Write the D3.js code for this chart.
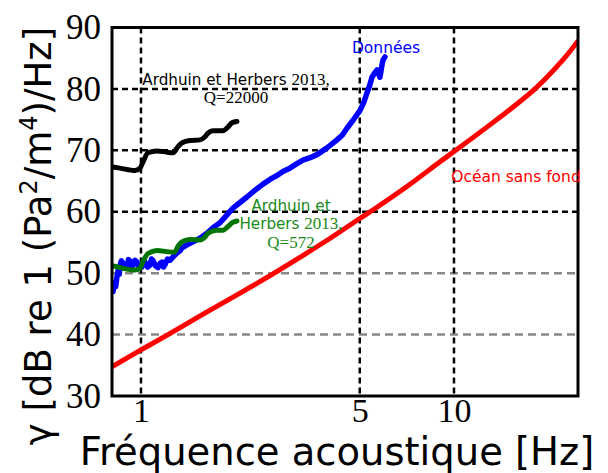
<!DOCTYPE html>
<html>
<head>
<meta charset="utf-8">
<script src="https://cdn.jsdelivr.net/npm/d3@7"></script>
<style>
  html, body { margin: 0; padding: 0; background: #fff; }
  svg { display: block; }
</style>
</head>
<body>
<svg id="chart" width="608" height="473"></svg>
<script>
// ---- data ----
const xTicks = [1, 5, 10];
const xTickLabels = ["1", "5", "10"];
const yTicks = [30, 40, 50, 60, 70, 80, 90];
const yGridBlack = [60, 70, 80];
const yGridGray = [40, 50];

const freqRed = [0.81, 1, 1.24, 1.6, 2, 2.45, 3.2, 4, 5, 5.66, 7.2, 9, 10, 13.7, 18.15, 22.35, 24.8];
const gammaRed = [34.8, 37.5, 40.2, 43.5, 46.3, 48.9, 52.5, 55.6, 58.9, 60.7, 64.4, 68.1, 69.8, 75.0, 80.0, 84.8, 87.7];

const freqBlack = [0.808, 0.857, 0.957, 0.993, 1.015, 1.053, 1.125, 1.211, 1.265, 1.313, 1.352, 1.434, 1.543, 1.601, 1.637, 1.698, 1.828, 1.897, 1.953, 2.026];
const gammaBlack = [67.3, 67.1, 66.7, 67.1, 68.1, 69.6, 69.9, 69.7, 69.6, 70.6, 71.2, 71.6, 71.7, 72.2, 72.8, 73.2, 73.2, 73.8, 74.5, 74.7];

const freqGreen = [0.808, 0.857, 0.957, 0.993, 1.015, 1.053, 1.125, 1.211, 1.28, 1.313, 1.352, 1.434, 1.543, 1.601, 1.637, 1.74, 1.828, 1.897, 1.953, 2.026];
const gammaGreen = [51.2, 50.9, 50.5, 50.8, 51.9, 53.2, 53.7, 53.5, 53.4, 54.4, 55.1, 55.5, 55.4, 55.9, 56.5, 57.0, 57.0, 57.6, 58.2, 58.5];

const freqBlue = [0.814, 0.822, 0.830, 0.838, 0.846, 0.852, 0.857, 0.866, 0.876, 0.889, 0.902, 0.912, 0.922, 0.933, 0.943, 0.957, 0.971, 0.985, 1.007, 1.018, 1.030, 1.050, 1.068, 1.080, 1.092, 1.112, 1.133, 1.150, 1.167, 1.180, 1.193, 1.215, 1.238, 1.265, 1.303, 1.330, 1.352, 1.403, 1.466, 1.543, 1.625, 1.698, 1.788, 1.883, 1.967, 2.072, 2.18, 2.30, 2.454, 2.59, 2.72, 2.85, 2.99, 3.14, 3.29, 3.47, 3.65, 3.93, 4.23, 4.40, 4.55, 4.76, 5.01, 5.15, 5.27, 5.38, 5.47, 5.58, 5.68, 5.80, 5.87, 5.93, 6.02];
const gammaBlue = [47.0, 48.5, 47.8, 49.4, 50.5, 49.8, 51.3, 52.0, 51.6, 50.8, 51.0, 52.2, 52.0, 51.0, 51.3, 52.1, 51.8, 51.0, 51.0, 52.0, 51.8, 51.0, 51.3, 52.3, 52.1, 51.2, 50.9, 51.6, 51.8, 51.0, 51.4, 52.3, 52.1, 52.6, 53.3, 53.6, 54.1, 54.6, 55.1, 55.7, 56.5, 57.4, 58.2, 59.5, 60.6, 61.5, 62.4, 63.4, 64.5, 65.3, 65.9, 66.6, 67.1, 67.8, 68.4, 68.8, 69.3, 70.4, 71.7, 72.5, 73.6, 74.9, 76.5, 77.8, 79.3, 80.6, 81.9, 82.6, 83.1, 81.9, 83.5, 84.7, 85.2];

// ---- layout ----
const svg = d3.select("#chart");
const L = 112, R = 578, T = 27.5, B = 396;
const x = d3.scaleLog().domain([0.808, 24.9]).range([L, R]);
const y = d3.scaleLinear().domain([30, 90]).range([B, T]);

const serif = "'Liberation Serif', 'Times New Roman', serif";
const sans = "'DejaVu Sans', sans-serif";

svg.append("defs").append("clipPath").attr("id", "clip")
  .append("rect").attr("x", L).attr("y", T).attr("width", R - L).attr("height", B - T);

// grid
const grid = svg.append("g");
grid.selectAll("line.gy").data(yGridGray).join("line")
  .attr("x1", L).attr("x2", R).attr("y1", d => y(d)).attr("y2", d => y(d))
  .attr("stroke", "#888").attr("stroke-width", 2.5).attr("stroke-dasharray", "8,5");
grid.selectAll("line.by").data(yGridBlack).join("line")
  .attr("x1", L).attr("x2", R).attr("y1", d => y(d)).attr("y2", d => y(d))
  .attr("stroke", "#000").attr("stroke-width", 2.5).attr("stroke-dasharray", "6,4");
grid.selectAll("line.bx").data(xTicks).join("line")
  .attr("x1", d => x(d)).attr("x2", d => x(d)).attr("y1", T).attr("y2", B)
  .attr("stroke", "#000").attr("stroke-width", 2.5).attr("stroke-dasharray", "6,4");

// axes (labels only, via d3 axis)
const xAxis = d3.axisBottom(x).tickValues(xTicks).tickFormat((d, i) => xTickLabels[i]).tickSize(0).tickPadding(2);
const gx = svg.append("g").attr("transform", `translate(0,${B})`).call(xAxis);
gx.select(".domain").remove();
gx.selectAll("text").attr("font-family", serif).attr("font-size", 34).attr("fill", "#000");

const yAxis = d3.axisLeft(y).tickValues(yTicks).tickFormat(d3.format("d")).tickSize(0).tickPadding(11);
const gy = svg.append("g").attr("transform", `translate(${L},0)`).call(yAxis);
gy.select(".domain").remove();
gy.selectAll("text").attr("font-family", serif).attr("font-size", 35).attr("fill", "#000");

// curves
const plot = svg.append("g").attr("clip-path", "url(#clip)");
function drawLine(fs, gs, color, curve, w) {
  const data = fs.map((f, i) => [f, gs[i]]);
  plot.append("path").datum(data)
    .attr("d", d3.line().x(d => x(d[0])).y(d => y(d[1])).curve(curve))
    .attr("fill", "none").attr("stroke", color).attr("stroke-width", w)
    .attr("stroke-linejoin", "round").attr("stroke-linecap", "round");
}
drawLine(freqRed, gammaRed, "#ff0000", d3.curveCatmullRom.alpha(0.5), 5);
drawLine(freqBlue, gammaBlue, "#0000ff", d3.curveLinear, 5.5);
drawLine(freqBlack, gammaBlack, "#000000", d3.curveMonotoneX, 5);
drawLine(freqGreen, gammaGreen, "#007400", d3.curveMonotoneX, 5);

// frame
svg.append("rect").attr("x", L).attr("y", T).attr("width", R - L).attr("height", B - T)
  .attr("fill", "none").attr("stroke", "#000").attr("stroke-width", 3);

// annotations
svg.append("text").attr("x", 386).attr("y", 53).attr("text-anchor", "middle")
  .attr("font-family", sans).attr("font-size", 15.5).attr("fill", "#0000ff").text("Données");
svg.append("text").attr("x", 516).attr("y", 182).attr("text-anchor", "middle")
  .attr("font-family", sans).attr("font-size", 15.5).attr("fill", "#ff0000").text("Océan sans fond");

function annot(cx, lines, color) {
  lines.forEach(l => {
    const t = svg.append("text").attr("x", cx).attr("y", l.y).attr("text-anchor", "middle").attr("fill", color);
    l.parts.forEach(p => {
      t.append("tspan").attr("font-family", p.s ? serif : sans).attr("font-size", p.s ? 17 : 15.2).text(p.t);
    });
  });
}
annot(236, [
  { y: 85, parts: [{ t: "Ardhuin et Herbers " }, { t: "2013,", s: true }] },
  { y: 103, parts: [{ t: "Q=22000", s: true }] }
], "#000");
annot(291, [
  { y: 211, parts: [{ t: "Ardhuin et" }] },
  { y: 229, parts: [{ t: "Herbers " }, { t: "2013,", s: true }] },
  { y: 248, parts: [{ t: "Q=572", s: true }] }
], "#1a8a1a");

// axis titles
svg.append("text").attr("x", 337).attr("y", 465).attr("text-anchor", "middle")
  .attr("font-family", sans).attr("font-size", 38.5).attr("fill", "#000")
  .text("Fréquence acoustique [Hz]");

const yl = svg.append("text").attr("transform", "translate(51,236) rotate(-90)")
  .attr("text-anchor", "middle").attr("font-family", sans).attr("font-size", 37).attr("fill", "#000");
yl.append("tspan").text("γ [dB re 1 (Pa");
yl.append("tspan").attr("font-size", 24).attr("dy", -14).text("2");
yl.append("tspan").attr("dy", 14).text("/m");
yl.append("tspan").attr("font-size", 24).attr("dy", -14).text("4");
yl.append("tspan").attr("dy", 14).text(")/Hz]");
</script>
</body>
</html>
